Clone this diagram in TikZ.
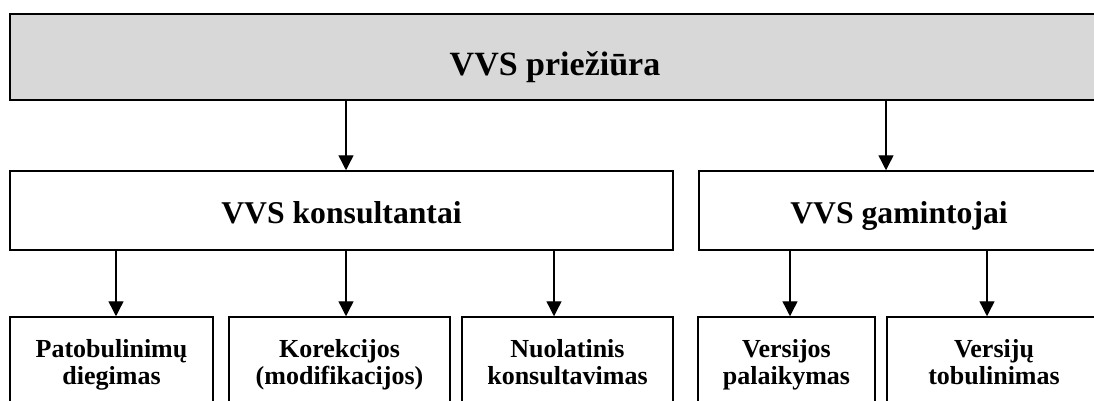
\documentclass[tikz,border=0pt]{standalone}
\usepackage{fontspec}
\setmainfont{Liberation Serif}
\usetikzlibrary{arrows.meta}
\definecolor{headfill}{RGB}{216,216,216}
\tikzset{
  x=1pt, y=-1pt,
  box/.style={draw=black, line width=1.5pt, rectangle, inner sep=0pt, align=center},
  headbox/.style={box, line width=2pt, fill=headfill,
    font=\fontsize{34}{40}\selectfont\bfseries, text height=38pt, text depth=0pt},
  midbox/.style={box, minimum height=79pt,
    font=\fontsize{31.7}{38}\selectfont\bfseries, text height=25pt, text depth=0pt},
  leafbox/.style={box, minimum height=98pt,
    font=\fontsize{26}{27}\selectfont\bfseries},
  arr/.style={line width=1.4pt, -{Triangle[width=15pt,length=15pt]}}
}
\begin{document}
\begin{tikzpicture}
  \useasboundingbox (0,0) rectangle (1094,401);

  % top level
  \node[headbox, minimum width=1090pt, minimum height=86pt] (head) at (555,57) {VVS priežiūra};

  % second level
  \node[midbox, minimum width=663pt] (kons) at (341.5,210.5) {VVS konsultantai};
  \node[midbox, minimum width=400pt] (gam) at (899,210.5) {VVS gamintojai};

  % third level
  \node[leafbox, minimum width=203pt] (patob) at (111.5,366) {\strut Patobulinimų\\\strut diegimas};
  \node[leafbox, minimum width=221pt] (korek) at (339.5,366) {\strut Korekcijos\\\strut (modifikacijos)};
  \node[leafbox, minimum width=211pt] (nuol) at (567.5,366) {\strut Nuolatinis\\\strut konsultavimas};
  \node[leafbox, minimum width=177pt] (palaik) at (786.5,366) {\strut Versijos\\\strut palaikymas};
  \node[leafbox, minimum width=214pt] (tobul) at (994,366) {\strut Versijų\\\strut tobulinimas};

  % arrow columns
  \coordinate (cA) at (346,0);
  \coordinate (cB) at (886,0);
  \coordinate (cC) at (116,0);
  \coordinate (cD) at (554,0);
  \coordinate (cE) at (790,0);
  \coordinate (cF) at (987,0);

  \draw[arr] (head.south -| cA) -- (kons.north -| cA);
  \draw[arr] (head.south -| cB) -- (gam.north -| cB);

  \draw[arr] (kons.south -| cC) -- (patob.north -| cC);
  \draw[arr] (kons.south -| cA) -- (korek.north -| cA);
  \draw[arr] (kons.south -| cD) -- (nuol.north -| cD);

  \draw[arr] (gam.south -| cE) -- (palaik.north -| cE);
  \draw[arr] (gam.south -| cF) -- (tobul.north -| cF);
\end{tikzpicture}
\end{document}
